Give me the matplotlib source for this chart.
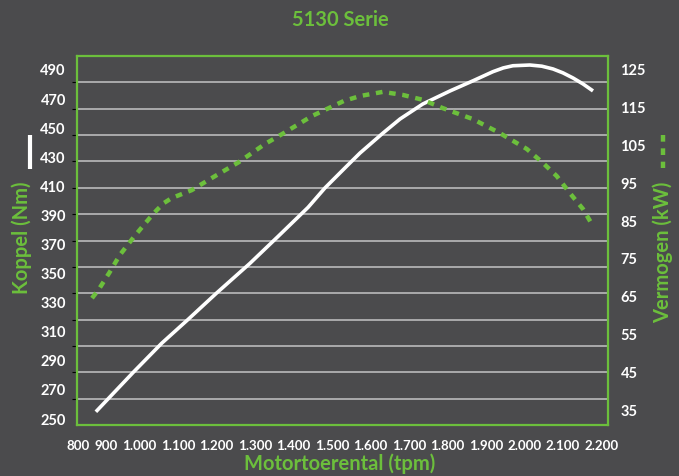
import matplotlib.pyplot as plt
from matplotlib.lines import Line2D

# torque curve (Nm) vs engine speed (rpm)
rpm_torque = [887, 984, 1058, 1127, 1200, 1287, 1360, 1438, 1482, 1539, 1573, 1633,
              1677, 1736, 1807, 1866, 1918, 1945, 1970, 2014, 2045, 2074, 2100, 2126, 2152, 2178]
torque_nm = [255.0, 282.1, 302.1, 318.6, 336.5, 357.0, 375.5, 395.5, 408.9, 424.0, 432.9, 446.7,
             456.3, 466.6, 475.6, 482.5, 488.8, 491.4, 492.9, 493.4, 492.6, 490.7, 488.0, 484.5,
             480.4, 475.6]

# power curve (kW) vs engine speed (rpm)
rpm_power = [877, 895, 923, 949, 988, 1025, 1045, 1064, 1084, 1136, 1183, 1258, 1326,
             1375, 1448, 1531, 1573, 1632, 1684, 1736, 1788, 1866, 1936, 2006, 2048,
             2084, 2118, 2152, 2178]
power_kw = [64.6, 67.0, 71.5, 76.0, 81.1, 85.6, 87.9, 89.8, 91.1, 93.2, 96.1, 100.6, 105.4,
            108.3, 112.8, 116.8, 118.1, 119.2, 118.4, 117.1, 114.9, 112.0, 108.3, 104.1, 100.4,
            96.9, 92.4, 88.2, 83.7]

xtick_labels = ['800', '900', '1.000', '1.100', '1.200', '1.300', '1.400', '1.500',
                '1.600', '1.700', '1.800', '1.900', '2.000', '2.100', '2.200']
torque_ticks = [250, 270, 290, 310, 330, 350, 370, 390, 410, 430, 450, 470, 490]
power_ticks = [35, 45, 55, 65, 75, 85, 95, 105, 115, 125]

bg = '#4b4b4d'
green = '#6cbf3c'
font = 'Lato'
tick_size = 10.5
title_size = 14.5

plt.rcParams['font.family'] = font
plt.rcParams['font.weight'] = 'bold'

fig = plt.figure(figsize=(6.79, 4.76), dpi=100, facecolor=bg)
ax = fig.add_axes([77 / 679, 51 / 476, 531 / 679, 369 / 476], facecolor=bg)

# horizontal grid (independent of the value scales, as in the original)
ax.set_ylim(0, 14)
ax.set_yticks(range(1, 14))
ax.yaxis.grid(True, color='#c4c4c4', linewidth=1.1)
ax.tick_params(axis='y', left=False, labelleft=False)
for s in ax.spines.values():
    s.set_color(green)
    s.set_linewidth(1.6)

# x axis: first two labels are squeezed in next to the frame
ax.set_xlim(838, 2217)
xtick_pos = [842, 914] + list(range(1000, 2201, 100))
ax.set_xticks(xtick_pos)
ax.set_xticklabels(xtick_labels)
ax.tick_params(axis='x', length=0, pad=11, colors='white', labelsize=9.6)
for t in ax.get_xticklabels():
    t.set_fontweight('bold')

# torque on the left scale
ax_t = ax.twinx()
ax_t.set_ylim(245.9, 499.6)
ax_t.plot(rpm_torque, torque_nm, color='white', linewidth=2.6, solid_capstyle='butt')
ax_t.yaxis.tick_left()
ax_t.set_yticks(torque_ticks)
ax_t.tick_params(axis='y', length=0, pad=8, colors='white', labelsize=tick_size)

# power on the right scale
ax_p = ax.twinx()
ax_p.set_ylim(31.03, 128.7)
ax_p.plot(rpm_power, power_kw, color=green, linewidth=3.2, linestyle=(0, (1.5, 1.5)))
ax_p.set_yticks(power_ticks)
ax_p.tick_params(axis='y', length=0, pad=9, colors='white', labelsize=tick_size)

for a in (ax_t, ax_p):
    a.set_xlim(838, 2217)
    for s in a.spines.values():
        s.set_visible(False)
    for t in a.get_yticklabels():
        t.set_fontweight('bold')

fig.text(340 / 679, 1 - 20 / 476, '5130 Serie', color=green, fontsize=title_size,
         fontweight='bold', ha='center', va='center')
fig.text(340 / 679, 1 - 464 / 476, 'Motortoerental (tpm)', color=green, fontsize=title_size,
         fontweight='bold', ha='center', va='center')
fig.text(22 / 679, 1 - 238 / 476, 'Koppel (Nm)', color=green, fontsize=title_size,
         fontweight='bold', ha='center', va='center', rotation=90)
fig.text(663 / 679, 1 - 252 / 476, 'Vermogen (kW)', color=green, fontsize=title_size,
         fontweight='bold', ha='center', va='center', rotation=90)

# legend-like line samples above the axis titles
fig.add_artist(Line2D([30 / 679, 30 / 679], [1 - 135 / 476, 1 - 169 / 476],
                      color='white', linewidth=3, solid_capstyle='butt'))
fig.add_artist(Line2D([663 / 679, 663 / 679], [1 - 135 / 476, 1 - 168 / 476],
                      color=green, linewidth=3.2, linestyle=(0, (1.5, 1.5))))

fig.savefig('out.png', dpi=100, facecolor=bg)
